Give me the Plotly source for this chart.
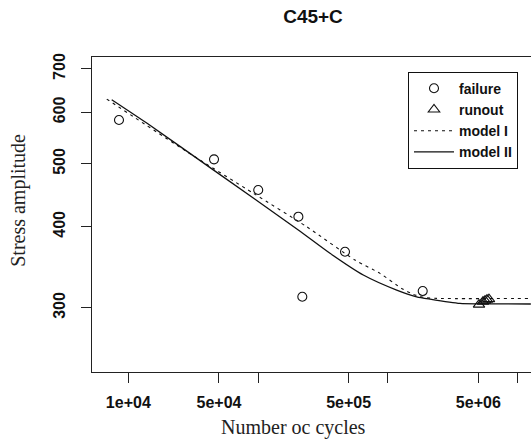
import plotly.graph_objects as go

# failure points
fail_n = [8475, 45800, 100400, 204800, 219600, 468700, 1862000]
fail_s = [584, 508, 455.7, 414.5, 312, 366.0, 318.4]

# runout points
run_n = [5.058e6, 5.430e6, 5.626e6, 5.830e6, 6.039e6]
run_s = [303.4, 306.7, 307.7, 308.9, 309.4]

# model I curve
m1_n = [6815, 28200, 91990, 237400, 559700, 872100, 1.282e6, 1.576e6, 1.939e6, 2.387e6, 1.273e7]
m1_s = [629.0, 522.1, 450.4, 400.0, 355.4, 339.0, 321.4, 314.7, 311.1, 310.2, 310.2]

# model II curve
m2_n = [7447, 13870, 45220, 204500, 359000, 648500, 1.173e6, 1.673e6, 2.119e6, 3.609e6, 5.1e6, 1.27e7]
m2_s = [627.7, 577.8, 489.4, 395.4, 364.0, 337.0, 319.5, 312.0, 309.4, 304.7, 304.3, 304.1]

x_tickvals = [1e4, 5e4, 1e5, 5e5, 1e6, 5e6, 1e7]
x_ticktext = ["1e+04", "5e+04", "", "5e+05", "", "5e+06", ""]
y_tickvals = [300, 400, 500, 600, 700]
y_ticktext = ["300", "400", "500", "600", "700"]

W, H = 531, 442
L, R, T, B = 92, 0, 57, 70

fig = go.Figure()
fig.add_trace(go.Scatter(x=fail_n, y=fail_s, mode="markers", name="failure",
                         marker=dict(symbol="circle-open", size=9, color="#111",
                                     line=dict(width=1.1, color="#111"))))
fig.add_trace(go.Scatter(x=run_n, y=run_s, mode="markers", name="runout",
                         marker=dict(symbol="triangle-up-open", size=10, color="#111",
                                     line=dict(width=1.1, color="#111"))))
fig.add_trace(go.Scatter(x=m1_n, y=m1_s, mode="lines", name="model I",
                         line=dict(color="#111", width=1.1, dash="3px,4px",
                                   shape="spline", smoothing=0.6)))
fig.add_trace(go.Scatter(x=m2_n, y=m2_s, mode="lines", name="model II",
                         line=dict(color="#111", width=1.3, shape="spline", smoothing=0.6)))

axis_font = dict(family="Liberation Sans, Arial, sans-serif", size=16, color="#111", weight="bold")

fig.update_layout(
    width=W, height=H,
    margin=dict(l=L, r=R, t=T, b=B),
    paper_bgcolor="white", plot_bgcolor="white",
    showlegend=True,
    legend=dict(x=(408 - L) / (W - L - R), y=(H - B - 71.7) / (H - T - B),
                xanchor="left", yanchor="top",
                bordercolor="#111", borderwidth=1, bgcolor="white",
                font=dict(family="Liberation Sans, Arial, sans-serif", size=14,
                          color="#111", weight="bold"),
                itemwidth=40, tracegroupgap=0),
    xaxis=dict(type="log", range=[3.720, 7.105],
               tickvals=x_tickvals, ticktext=x_ticktext,
               ticks="outside", ticklen=10, tickwidth=1.1, tickcolor="#222",
               showline=True, linecolor="#222", linewidth=1.2, mirror=True,
               showgrid=False, zeroline=False, tickfont=axis_font,
               ticklabelstandoff=6),
    yaxis=dict(type="log", range=[2.3783, 2.8635],
               tickvals=y_tickvals, ticktext=y_ticktext, tickangle=-90,
               ticks="outside", ticklen=10, tickwidth=1.1, tickcolor="#222",
               showline=True, linecolor="#222", linewidth=1.2, mirror=False,
               showgrid=False, zeroline=False, tickfont=axis_font,
               ticklabelstandoff=10),
    title=dict(text="C45+C", x=313 / W, xanchor="center", y=1 - 16 / H, yanchor="middle",
               font=dict(family="Liberation Sans, Arial, sans-serif", size=19,
                         color="#111", weight="bold")),
)

serif = dict(family="Liberation Serif, Times New Roman, serif", size=20, color="#222")
fig.add_annotation(text="Number oc cycles", xref="paper", yref="paper",
                   x=(293 - L) / (W - L - R), y=-(427 - (H - B)) / (H - T - B),
                   xanchor="center", yanchor="middle", showarrow=False, font=serif)
fig.add_annotation(text="Stress amplitude", xref="paper", yref="paper",
                   x=-(L - 18.3) / (W - L - R), y=(H - B - 200.5) / (H - T - B),
                   xanchor="center", yanchor="middle", showarrow=False, textangle=-90,
                   font=serif)

fig.write_html("out.html", config={"displayModeBar": False},
               post_script="document.body.style.margin='0px';document.body.style.overflow='hidden';")
